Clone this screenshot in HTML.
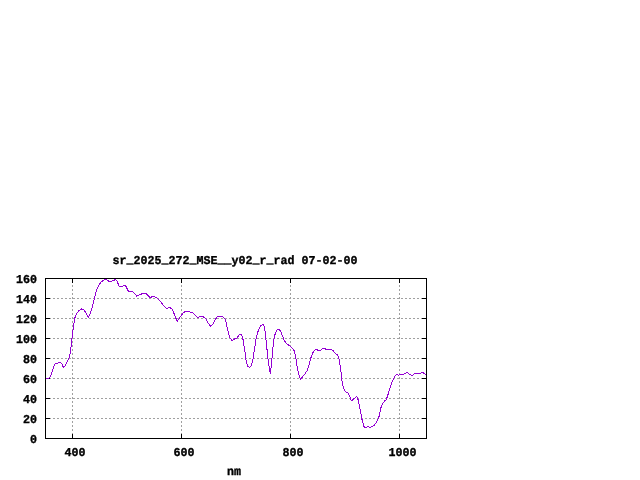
<!DOCTYPE html>
<html><head><meta charset="utf-8"><title>plot</title>
<style>
html,body{margin:0;padding:0;background:#fff;}
body{width:640px;height:480px;overflow:hidden;}
svg{display:block;}
text{font-family:"Liberation Mono","DejaVu Sans Mono",monospace;font-weight:bold;text-rendering:geometricPrecision;font-size:12px;stroke:#000;stroke-width:0.35px;fill:#000;}
</style></head><body>
<svg width="640" height="480" viewBox="0 0 640 480">
<rect width="640" height="480" fill="#fff"/>
<g stroke="#a0a0a0" stroke-width="1" stroke-dasharray="2,2" shape-rendering="crispEdges"><line x1="45" y1="418.5" x2="426" y2="418.5"/><line x1="45" y1="398.5" x2="426" y2="398.5"/><line x1="45" y1="378.5" x2="426" y2="378.5"/><line x1="45" y1="358.5" x2="426" y2="358.5"/><line x1="45" y1="338.5" x2="426" y2="338.5"/><line x1="45" y1="318.5" x2="426" y2="318.5"/><line x1="45" y1="298.5" x2="426" y2="298.5"/><line x1="72.5" y1="439" x2="72.5" y2="278"/><line x1="181.5" y1="439" x2="181.5" y2="278"/><line x1="290.5" y1="439" x2="290.5" y2="278"/><line x1="399.5" y1="439" x2="399.5" y2="278"/></g>
<g stroke="#000" stroke-width="1" shape-rendering="crispEdges"><line x1="45" y1="438.5" x2="50" y2="438.5"/><line x1="422" y1="438.5" x2="427" y2="438.5"/><line x1="45" y1="418.5" x2="50" y2="418.5"/><line x1="422" y1="418.5" x2="427" y2="418.5"/><line x1="45" y1="398.5" x2="50" y2="398.5"/><line x1="422" y1="398.5" x2="427" y2="398.5"/><line x1="45" y1="378.5" x2="50" y2="378.5"/><line x1="422" y1="378.5" x2="427" y2="378.5"/><line x1="45" y1="358.5" x2="50" y2="358.5"/><line x1="422" y1="358.5" x2="427" y2="358.5"/><line x1="45" y1="338.5" x2="50" y2="338.5"/><line x1="422" y1="338.5" x2="427" y2="338.5"/><line x1="45" y1="318.5" x2="50" y2="318.5"/><line x1="422" y1="318.5" x2="427" y2="318.5"/><line x1="45" y1="298.5" x2="50" y2="298.5"/><line x1="422" y1="298.5" x2="427" y2="298.5"/><line x1="45" y1="278.5" x2="50" y2="278.5"/><line x1="422" y1="278.5" x2="427" y2="278.5"/><line x1="72.5" y1="439" x2="72.5" y2="434"/><line x1="72.5" y1="278" x2="72.5" y2="283"/><line x1="181.5" y1="439" x2="181.5" y2="434"/><line x1="181.5" y1="278" x2="181.5" y2="283"/><line x1="290.5" y1="439" x2="290.5" y2="434"/><line x1="290.5" y1="278" x2="290.5" y2="283"/><line x1="399.5" y1="439" x2="399.5" y2="434"/><line x1="399.5" y1="278" x2="399.5" y2="283"/></g>
<path d="M45.9,379.0 L48.6,378.3 L50.6,376.2 L52.2,371.2 L53.8,366.2 L55.3,363.0 L56.9,363.4 L59.0,362.3 L61.6,363.4 L63.4,367.3 L65.0,366.2 L66.9,361.9 L68.9,358.8 L70.0,354.0 L70.9,348.6 L71.5,342.0 L72.8,331.0 L74.7,318.4 L76.2,314.5 L79.0,310.6 L81.4,309.0 L83.8,309.8 L85.6,312.2 L88.4,317.2 L90.8,312.2 L93.9,300.5 L96.2,291.0 L98.6,285.6 L100.9,282.2 L103.3,280.2 L105.6,279.4 L108.8,281.2 L111.9,281.2 L115.8,279.4 L117.3,281.7 L119.4,286.9 L121.2,286.9 L124.4,285.2 L125.9,286.4 L128.3,291.1 L132.5,291.4 L134.7,293.4 L136.7,296.2 L139.4,294.7 L143.3,293.4 L146.4,293.8 L148.4,295.8 L150.0,297.8 L152.2,296.6 L155.0,296.9 L157.8,298.6 L160.5,301.2 L163.6,305.6 L166.4,308.3 L169.8,307.5 L172.2,309.0 L173.8,313.0 L175.6,317.7 L177.2,321.2 L179.2,318.4 L181.6,315.0 L183.9,312.2 L186.2,311.4 L189.4,311.9 L192.2,312.5 L194.8,315.0 L197.5,317.7 L200.3,316.4 L203.1,316.6 L205.8,318.8 L208.1,323.1 L210.5,326.2 L212.8,324.4 L215.2,319.7 L217.5,316.6 L220.6,316.3 L223.4,317.1 L225.5,319.6 L227.0,326.6 L228.6,333.6 L230.2,338.3 L232.2,340.6 L234.8,338.8 L237.2,337.8 L239.5,334.4 L241.6,334.7 L243.1,339.8 L244.7,350.0 L246.2,361.7 L247.8,366.4 L249.7,367.5 L251.2,365.6 L253.1,358.6 L254.7,347.7 L256.2,337.5 L258.3,330.5 L260.6,325.8 L263.0,324.2 L264.5,327.3 L265.8,337.5 L266.9,348.4 L268.1,360.2 L269.4,368.8 L270.3,373.4 L271.2,367.2 L272.3,354.7 L273.4,343.0 L274.7,335.2 L276.6,330.5 L278.6,329.2 L280.6,330.8 L282.5,335.9 L284.4,340.6 L286.4,343.8 L289.5,345.6 L292.2,348.2 L294.3,351.0 L295.7,357.5 L297.2,366.9 L298.7,374.2 L300.3,379.2 L302.7,376.6 L305.0,373.8 L307.3,370.3 L308.9,365.2 L310.5,358.9 L312.5,353.4 L314.7,350.0 L317.2,349.5 L318.8,351.1 L320.3,350.3 L322.5,348.8 L325.0,348.8 L326.9,349.5 L330.8,349.5 L333.1,350.6 L335.0,353.1 L337.5,355.0 L339.1,358.9 L340.2,365.9 L341.4,375.3 L342.5,384.7 L344.1,389.5 L345.6,392.0 L347.9,392.9 L349.5,395.8 L350.8,399.7 L352.0,400.6 L354.0,398.7 L356.6,396.4 L357.9,399.0 L359.0,403.6 L360.8,413.1 L362.3,420.9 L363.9,426.4 L365.5,427.7 L367.8,426.4 L369.7,427.5 L371.7,426.9 L374.1,425.3 L376.4,422.5 L378.4,418.6 L379.8,413.9 L380.6,408.4 L382.3,404.5 L384.2,401.4 L386.2,399.8 L387.8,395.2 L389.7,388.9 L391.6,383.4 L393.6,378.4 L395.2,375.6 L396.4,374.4 L398.3,375.3 L399.8,374.5 L403.8,374.4 L406.9,372.2 L409.2,374.1 L411.9,375.6 L414.7,373.6 L419.4,373.6 L422.2,372.5 L424.1,373.3 L426.1,374.8" fill="none" stroke="#9400d3" stroke-width="1" stroke-linejoin="round" shape-rendering="crispEdges"/>
<rect x="45.5" y="278.5" width="381" height="160" fill="none" stroke="#000" stroke-width="1" shape-rendering="crispEdges"/>
<g><text transform="translate(37,443) scale(0.972,1)" text-anchor="end">0</text><text transform="translate(37,423) scale(0.972,1)" text-anchor="end">20</text><text transform="translate(37,403) scale(0.972,1)" text-anchor="end">40</text><text transform="translate(37,383) scale(0.972,1)" text-anchor="end">60</text><text transform="translate(37,363) scale(0.972,1)" text-anchor="end">80</text><text transform="translate(37,343) scale(0.972,1)" text-anchor="end">100</text><text transform="translate(37,323) scale(0.972,1)" text-anchor="end">120</text><text transform="translate(37,303) scale(0.972,1)" text-anchor="end">140</text><text transform="translate(37,283) scale(0.972,1)" text-anchor="end">160</text><text transform="translate(75,456) scale(0.972,1)" text-anchor="middle">400</text><text transform="translate(184,456) scale(0.972,1)" text-anchor="middle">600</text><text transform="translate(293,456) scale(0.972,1)" text-anchor="middle">800</text><text transform="translate(402.5,456) scale(0.972,1)" text-anchor="middle">1000</text>
<text transform="translate(235,264) scale(0.972,1)" text-anchor="middle">sr<tspan dy="-1.2">_</tspan><tspan dy="1.2">2025</tspan><tspan dy="-1.2">_</tspan><tspan dy="1.2">272</tspan><tspan dy="-1.2">_</tspan><tspan dy="1.2">MSE</tspan><tspan dy="-1.2">__</tspan><tspan dy="1.2">y02</tspan><tspan dy="-1.2">_</tspan><tspan dy="1.2">r</tspan><tspan dy="-1.2">_</tspan><tspan dy="1.2">rad 07-02-00</tspan></text>
<text transform="translate(234,475) scale(0.972,1)" text-anchor="middle">nm</text>
</g>
</svg>
</body></html>
